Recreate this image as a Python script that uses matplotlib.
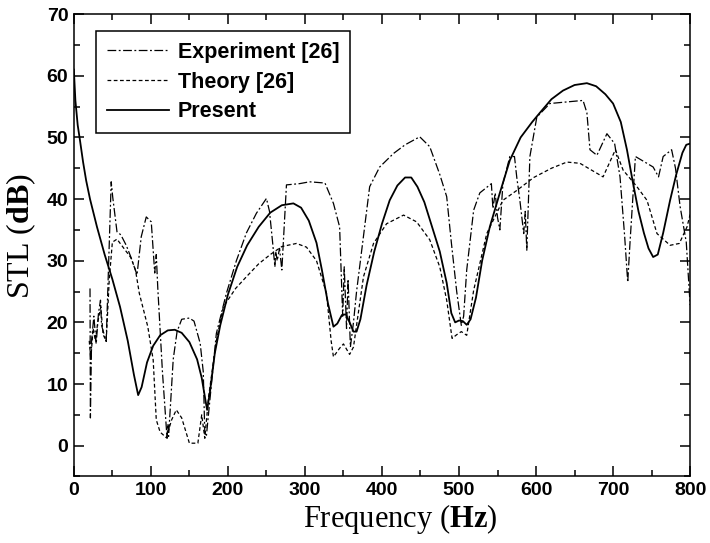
import matplotlib
matplotlib.use('Agg')
import matplotlib.pyplot as plt
from matplotlib.ticker import MultipleLocator

# Experiment [26] (dash-dot)
exp_f = [21, 21.5, 23, 26, 29, 32, 34.6, 36, 42, 48.5, 50.5, 56, 61, 68, 74, 82, 87.5, 94,
         100.5, 105, 107, 109, 115, 121, 122, 123, 129, 134, 140, 150, 156, 164, 168, 170,
         172, 185, 198, 211, 224, 237, 250, 254, 258, 261, 262, 264, 267, 270, 276, 293,
         306, 326, 337, 345, 349, 351, 354, 356, 359, 363, 367, 376, 384, 397, 415, 430,
         449, 462, 475, 484, 490, 497, 503, 506, 510, 519, 527, 542, 544, 547, 550, 553,
         557, 566, 572, 575, 579, 584, 586, 588, 592, 601, 618, 661, 666, 670, 679, 692,
         702, 709, 715, 719, 722, 729, 752, 759, 765, 776, 781, 787, 795, 800]
exp_db = [25.5, 4.5, 17, 21, 16.5, 21.5, 23.6, 19.5, 16.9, 42.8, 40.3, 34.7, 34.2, 32.5,
          30.6, 27.7, 33.9, 37.1, 36.3, 28, 31, 25.5, 12, 1.2, 3.5, 1.5, 14, 18.5, 20.5,
          20.7, 20.2, 16.6, 12, 2, 1.5, 18.2, 24.7, 30, 34.5, 37.7, 40.1, 38, 33, 29, 31.5,
          30, 32, 28.5, 42.3, 42.5, 42.8, 42.6, 39.3, 35.5, 21, 29, 19, 27, 16, 20, 25, 34,
          42, 45.2, 47.4, 48.8, 50.1, 48.5, 44, 40.4, 33, 25, 19.5, 21, 28.5, 38.2, 41,
          42.5, 38.5, 41, 37, 35, 42.5, 46.9, 46.9, 43.5, 39.8, 34.4, 38, 31.7, 46.9, 53.3,
          55.5, 56, 54, 48, 47.1, 50.6, 49, 43.6, 34, 26.5, 33, 46.9, 45.2, 43.6, 46.9, 48,
          45, 38.8, 33, 22.8]

# Theory [26] (dashed)
th_f = [20, 22, 25, 28, 31, 35, 38, 42, 46, 50, 56, 65, 74, 80, 85, 96, 103, 107, 112, 120,
        127, 133, 140, 150, 161, 166, 170, 175, 185, 194, 210, 224, 240, 255, 270, 289, 302,
        315, 328, 334, 337, 345, 350, 358, 363, 376, 389, 406, 428, 445, 462, 475, 484, 491,
        497, 503, 510, 519, 536, 557, 575, 597, 620, 640, 657, 687, 703, 713, 731, 744, 757,
        774, 786, 796, 800]
th_db = [17, 14, 19, 17, 20, 22.5, 18, 17, 27, 33, 33.5, 32, 30.5, 28.5, 24.7, 19.3, 13.9,
         4.2, 2.2, 1.3, 4.2, 5.8, 4.5, 0.4, 0.4, 5, 1.2, 8, 17, 22.5, 25.5, 27.4, 29.5, 31,
         32.3, 32.8, 32.2, 30, 24.7, 17, 14.4, 15.8, 16.5, 14.8, 16, 27.4, 32.8, 36, 37.4,
         36.3, 33.4, 29, 23.6, 17.4, 18, 18.5, 17.9, 25.2, 34.4, 39.8, 41.4, 43.5, 45, 46,
         45.8, 43.6, 48, 44.7, 42, 39.8, 34.4, 32.5, 32.8, 35.5, 37.5]

# Present (solid)
pr_f = [0, 2, 5, 8, 12, 16, 21, 30, 40, 50, 60, 70, 78, 83.5, 88, 95, 103, 112, 122, 131,
        140, 150, 160, 166, 170, 173, 177, 183, 190, 200, 212, 225, 240, 255, 270, 285, 295,
        305, 315, 322, 330, 337, 342, 348, 353, 358, 363, 367, 372, 380, 390, 400, 410, 420,
        430, 438, 446, 455, 465, 475, 484, 490, 495, 500, 505, 510, 515, 522, 530, 540, 553,
        566, 580, 595, 605, 620, 635, 650, 666, 678, 690, 700, 710, 718, 726, 733, 740, 746,
        752, 758, 765, 774, 782, 790, 795, 800]
pr_db = [61, 56, 52, 49.5, 46, 43, 40, 35.5, 31, 27, 22.5, 17, 11.5, 8.2, 9.5, 13.5, 16.2,
         17.9, 18.7, 18.8, 18.3, 16.8, 14, 11, 8, 5.8, 9, 15, 19.5, 24.5, 29, 32.5, 35.5,
         37.8, 39, 39.3, 38.6, 36.5, 32.9, 28.5, 23, 19.3, 19.8, 21.2, 21.3, 20, 18.5, 18.5,
         20.5, 26, 31.5, 36, 39.8, 42.2, 43.5, 43.5, 42, 39.5, 35.5, 31.5, 26.4, 21.5, 20,
         20.3, 20.2, 19.6, 20.5, 24, 30, 35.5, 41, 46.3, 50, 52.5, 54, 56.2, 57.6, 58.5,
         58.8, 58.3, 57, 55.5, 52.5, 48, 42.5, 38, 34.5, 32, 30.6, 31, 34.5, 39.8, 44, 47.5,
         48.8, 49]

plt.rcParams['font.family'] = 'Liberation Sans'
plt.rcParams['mathtext.fontset'] = 'custom'
plt.rcParams['mathtext.rm'] = 'Liberation Serif'
plt.rcParams['mathtext.bf'] = 'Liberation Serif:bold'

fig = plt.figure(figsize=(7.1, 5.43), dpi=100)
ax = fig.add_axes([0.104, 0.1225, 0.868, 0.8515])

ax.plot(exp_f, exp_db, color='black', lw=0.9, dashes=(7, 2, 1.5, 2), label='Experiment [26]')
ax.plot(th_f, th_db, color='black', lw=0.9, dashes=(3, 2), label='Theory [26]')
ax.plot(pr_f, pr_db, color='black', lw=1.3, label='Present')

ax.set_xlim(0, 800)
ax.set_ylim(-5, 70)
ax.xaxis.set_major_locator(MultipleLocator(100))
ax.xaxis.set_minor_locator(MultipleLocator(50))
ax.yaxis.set_major_locator(MultipleLocator(10))
ax.yaxis.set_minor_locator(MultipleLocator(5))
ax.set_yticks([0, 10, 20, 30, 40, 50, 60, 70])
ax.tick_params(which='both', direction='in', top=True, right=True, width=1.1)
ax.tick_params(which='major', length=7, labelsize=14, pad=4)
ax.tick_params(which='minor', length=4)
for lab in ax.get_xticklabels() + ax.get_yticklabels():
    lab.set_fontweight('bold')
for sp in ax.spines.values():
    sp.set_linewidth(1.1)

ax.set_xlabel(r'Frequency ($\mathbf{Hz}$)', fontsize=22, family='Liberation Serif')
ax.set_ylabel(r'STL ($\mathbf{dB}$)', fontsize=23, family='Liberation Serif')
ax.xaxis.set_label_coords(0.53, -0.055)
ax.yaxis.set_label_coords(-0.058, 0.52)

leg = ax.legend(loc='upper left', bbox_to_anchor=(0.036, 0.963), fancybox=False,
                edgecolor='black', framealpha=1, borderaxespad=0, handlelength=2.9,
                handletextpad=0.4, labelspacing=0.4, borderpad=0.5,
                prop={'weight': 'bold', 'size': 15.5})
leg.get_frame().set_linewidth(1.1)

fig.savefig('out.png', dpi=100)
